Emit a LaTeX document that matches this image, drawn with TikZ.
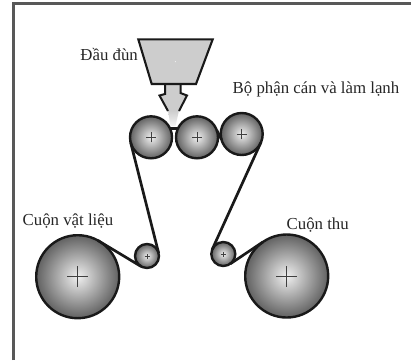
\documentclass[tikz,border=0pt]{standalone}
\usepackage{fontspec}
\setmainfont{Liberation Serif}
\definecolor{khungxam}{HTML}{585858}
\definecolor{pheuxam}{HTML}{CDCDCD}
\tikzset{
    truc/.style={circle, draw=black!90, line width=2.4pt, outer sep=0pt, inner sep=0pt,
        inner color=black!6, outer color=black!62},
    nhan/.style={font=\fontsize{16.8}{18}\selectfont, text=black!85, inner sep=0pt},
    bang/.style={draw=black!90, line width=2.7pt},
    chuthap/.style={draw=black!75, line width=0.7pt}
}
\begin{document}
\begin{tikzpicture}[x=1pt, y=-1pt]
    \useasboundingbox (0,0) rectangle (411,360);

    % 1. Khung ngoai (chi co canh trai va canh tren)
    \draw[khungxam, line width=3pt] (13.5,360) -- (13.5,3.8) -- (411,3.8);

    % 2. Dau dun va mui ten
    \fill[pheuxam] (165,82) -- (165,94) -- (159.5,95.5) -- (168,111) -- (179,111) -- (187,95.5) -- (180.5,94) -- (180.5,82) -- cycle;
    \shade[top color=pheuxam, bottom color=black!4] (168,110.5) -- (179,110.5) -- (175.5,126) -- (170.5,126) -- cycle;
    \draw[black!90, line width=2pt] (165,84) -- (165,94) -- (159.5,95.5) -- (168,111);
    \draw[black!90, line width=2pt] (180.5,84) -- (180.5,93) -- (187,95.5) -- (179,111);
    \draw[black!90, line width=2.1pt, fill=pheuxam] (138.3,39.3) -- (212.7,39.3) -- (196,84) -- (151.7,84) -- cycle;
    \fill[white] (175.3,61.7) circle (0.5);

    % 3. Cac truc
    \node[truc, minimum size=42pt] (can1) at (151,137.3) {};
    \node[truc, minimum size=42pt] (can2) at (197,137.3) {};
    \node[truc, minimum size=42pt] (can3) at (241.7,134) {};
    \node[truc, minimum size=24pt] (dan1) at (147,256) {};
    \node[truc, minimum size=24pt] (dan2) at (223.3,254) {};
    \node[truc, minimum size=83pt] (cuon1) at (77.7,276.7) {};
    \node[truc, minimum size=83pt] (cuon2) at (286.7,276) {};

    % 4. Dau cong tren tam truc
    \foreach \tam/\r in {can1/5, can2/5, can3/5, dan1/2.5, dan2/2.5, cuon1/10.5, cuon2/10.5}{
        \draw[chuthap] ([xshift=-\r pt]\tam.center) -- ([xshift=\r pt]\tam.center);
        \draw[chuthap] ([yshift=-\r pt]\tam.center) -- ([yshift=\r pt]\tam.center);
    }

    % 5. Bang vat lieu
    \draw[bang] (cuon1.61) -- (dan1.-119);
    \draw[bang] (dan1.14) -- (can1.194);
    \draw[bang] (can1.25) -- (can2.155);
    \draw[bang] (can2.20) -- (can3.195);
    \draw[bang] (can3.-23) -- (dan2.157);
    \draw[bang] (dan2.-55) -- (cuon2.125);

    % 6. Nhan
    \node[nhan, anchor=east] (daudun) at (138,54.5) {Đầu đùn};
    \node[nhan, anchor=west] (bophan) at (232.5,89.5) {Bộ phận cán và làm lạnh};
    \node[nhan, anchor=west] (cuonvl) at (22.5,221) {Cuộn vật liệu};
    \node[nhan, anchor=west] (cuonthu) at (286.5,225) {Cuộn thu};
\end{tikzpicture}
\end{document}
